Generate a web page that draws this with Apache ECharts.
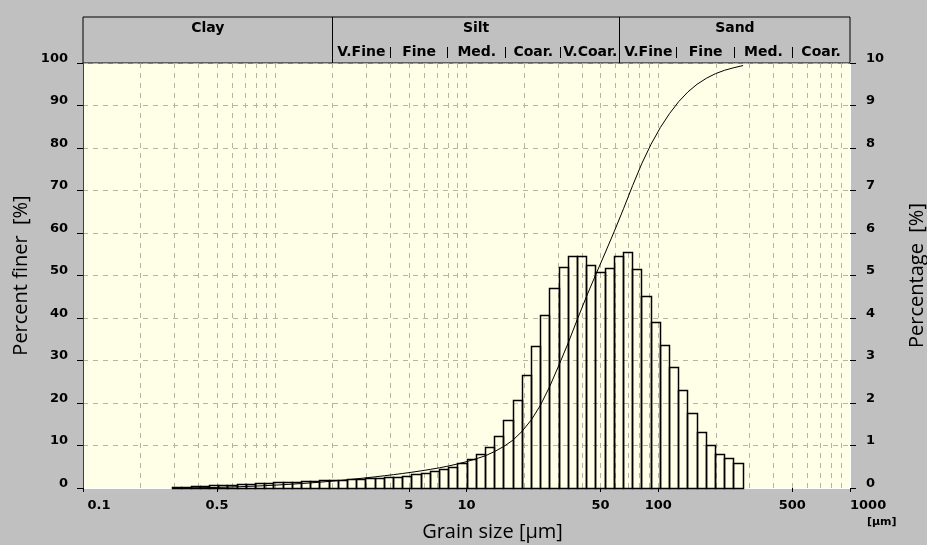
<!DOCTYPE html>
<html>
<head>
<meta charset="utf-8">
<script src="https://cdn.jsdelivr.net/npm/echarts@6/dist/echarts.min.js"></script>
<style>
  html, body { margin: 0; padding: 0; background: #c0c0c0; }
  #chart { width: 927px; height: 545px; }
</style>
</head>
<body>
<div id="chart"></div>
<script>
// Channel edges of the size classes, µm (62 channels, 63 edges)
const binEdges = [
  0.294, 0.328, 0.367, 0.410, 0.457, 0.511, 0.570, 0.637, 0.711, 0.794,
  0.887, 0.991, 1.106, 1.236, 1.380, 1.541, 1.721, 1.922, 2.147, 2.397,
  2.677, 2.990, 3.339, 3.729, 4.165, 4.651, 5.194, 5.801, 6.479, 7.234,
  8.080, 9.024, 10.08, 11.25, 12.57, 14.04, 15.68, 17.51, 19.55, 21.84,
  24.39, 27.23, 30.41, 33.96, 37.93, 42.36, 47.31, 52.83, 59.00, 65.89,
  73.58, 82.18, 91.77, 102.5, 114.5, 127.8, 142.8, 159.4, 178.1, 198.9,
  222.1, 248.1, 277.0
];

// Percentage of material in each channel (right axis)
const binPercent = [
  0.01, 0.02, 0.03, 0.04, 0.05, 0.06, 0.07, 0.08, 0.09, 0.10,
  0.11, 0.12, 0.13, 0.14, 0.15, 0.16, 0.17,
  0.18, 0.18, 0.20, 0.20, 0.23, 0.23, 0.25, 0.25, 0.28, 0.31,
  0.33, 0.39, 0.44, 0.49, 0.58, 0.66, 0.80,
  0.96, 1.22, 1.60, 2.05, 2.65, 3.33, 4.05, 4.69, 5.20, 5.45,
  5.45, 5.24, 5.07, 5.17, 5.45, 5.55, 5.13, 4.50, 3.90, 3.35,
  2.84, 2.30, 1.76, 1.31, 1.01,
  0.78, 0.69, 0.58
];

// Cumulative percent finer at each channel edge (left axis)
const finerPercent = [
  0, 0.01, 0.03, 0.06, 0.10, 0.15, 0.21, 0.28, 0.36, 0.45,
  0.55, 0.66, 0.78, 0.91, 1.05, 1.20, 1.37, 1.55, 1.75, 1.95,
  2.16, 2.39, 2.63, 2.88, 3.14, 3.42, 3.72, 4.04, 4.38, 4.76,
  5.19, 5.68, 6.24, 6.88, 7.6, 8.6, 9.8, 11.3, 13.4, 16.1,
  19.6, 24.0, 29.0, 34.2, 39.8, 45.2, 50.3, 55.3, 60.4, 65.7,
  71.2, 76.4, 80.9, 84.8, 88.1, 90.9, 93.2, 95.0, 96.4, 97.5,
  98.3, 98.9, 99.4
];

// Labelled sizes on the grain size axis, µm
const sizeTicks = [0.1, 0.5, 5, 10, 50, 100, 500, 1000];
// Sizes of the vertical grid lines, µm
const sizeGrid = [
  0.2, 0.3, 0.4, 0.5, 0.6, 0.7, 0.8, 0.9, 1,
  2, 3, 4, 5, 6, 7, 8, 9, 10,
  20, 30, 40, 50, 60, 70, 80, 90, 100,
  200, 300, 400, 500, 600, 700, 800, 900
];

// Texture classes and their limits, µm
const classNames = ['Clay', 'Silt', 'Sand'];
const classLimits = [0.1, 2, 63, 1000];
const subNames = ['V.Fine', 'Fine', 'Med.', 'Coar.', 'V.Coar.', 'V.Fine', 'Fine', 'Med.', 'Coar.'];
const subLimits = [2, 4, 8, 16, 31, 63, 125, 250, 500, 1000];

const lg = v => Math.log10(v);
const X_MIN = lg(0.1), X_MAX = lg(1000);
const LABEL_FONT = 'DejaVu Sans';
const TITLE_FONT = 'Open Sans';
const GRID_COLOR = '#b5b5a3';
const crisp = v => Math.round(v - 0.5) + 0.5;
const fmtSize = v => String(parseFloat(Math.pow(10, v).toPrecision(6)));

const barData = binPercent.map((p, i) => [lg(binEdges[i]), lg(binEdges[i + 1]), p]);
const curveData = binEdges.map((d, i) => [lg(d), finerPercent[i]]);
const classData = classNames.map((n, i) => [lg(classLimits[i]), lg(classLimits[i + 1])]);
const subData = subNames.map((n, i) => [lg(subLimits[i]), lg(subLimits[i + 1])]);

const chart = echarts.init(document.getElementById('chart'));

// value labels sit just above their tick marks
const valueLabel = {
  color: '#000', fontFamily: LABEL_FONT, fontWeight: 'bold', fontSize: 13,
  verticalAlign: 'bottom', lineHeight: 9
};

const option = {
  backgroundColor: '#c0c0c0',
  animation: false,
  grid: [
    { left: 83, right: 77, top: 63, bottom: 57, show: true, backgroundColor: '#ffffe8', borderWidth: 0,
      containLabel: false, outerBoundsMode: 'none' },
    { left: 83, right: 77, top: 17, height: 46, show: true, backgroundColor: 'transparent', borderColor: '#000', borderWidth: 1,
      containLabel: false, outerBoundsMode: 'none' }
  ],
  xAxis: [
    {
      type: 'value', gridIndex: 0, min: X_MIN, max: X_MAX, position: 'bottom',
      axisLine: { show: true, onZero: false, lineStyle: { color: '#ffffff', width: 1 } },
      axisTick: { show: true, length: 4, customValues: sizeTicks.map(lg), lineStyle: { color: '#000' } },
      axisLabel: {
        customValues: sizeTicks.map(lg),
        margin: 9,
        color: '#000', fontFamily: LABEL_FONT, fontWeight: 'bold', fontSize: 13, lineHeight: 17,
        alignMinLabel: 'left', alignMaxLabel: 'left',
        formatter: v => {
          const s = fmtSize(v);
          if (Math.abs(v - X_MAX) < 1e-6) return s + '\n{u|[µm]}';
          if (Math.abs(v - X_MIN) < 1e-6) return ' ' + s;
          return s;
        },
        rich: { u: { fontFamily: LABEL_FONT, fontWeight: 'bold', fontSize: 11, lineHeight: 17, padding: [0, 0, 0, 17], color: '#000' } }
      },
      splitLine: { show: false },
      name: 'Grain size [µm]', nameLocation: 'middle', nameGap: 34, nameMoveOverlap: false,
      nameTextStyle: { fontFamily: TITLE_FONT, fontSize: 20, color: '#000', padding: [0, 0, 0, 52] }
    },
    {
      type: 'value', gridIndex: 0, min: X_MIN, max: X_MAX, position: 'top',
      axisLine: { show: false, onZero: false },
      axisTick: { show: false, customValues: sizeGrid.map(lg) },
      axisLabel: { show: false },
      splitLine: { show: true, lineStyle: { color: GRID_COLOR, width: 1, type: [5, 5] } }
    },
    { type: 'value', gridIndex: 1, min: X_MIN, max: X_MAX, show: false }
  ],
  yAxis: [
    {
      type: 'value', gridIndex: 0, min: 0, max: 100, interval: 10, position: 'left',
      axisLine: { show: true, onZero: false, lineStyle: { color: '#404040', width: 1 } },
      axisTick: { show: true, length: 6, lineStyle: { color: '#000' } },
      axisLabel: Object.assign({ margin: 15 }, valueLabel),
      splitLine: { show: true, lineStyle: { color: GRID_COLOR, width: 1, type: [5, 5] } },
      name: 'Percent finer  [%]', nameLocation: 'middle', nameRotate: 90, nameGap: 52, nameMoveOverlap: false,
      nameTextStyle: { fontFamily: TITLE_FONT, fontSize: 20, color: '#000' }
    },
    {
      type: 'value', gridIndex: 0, min: 0, max: 10, interval: 1, position: 'right',
      axisLine: { show: true, onZero: false, lineStyle: { color: '#ffffff', width: 1 } },
      axisTick: { show: true, length: 6, lineStyle: { color: '#000' } },
      axisLabel: Object.assign({ margin: 16 }, valueLabel),
      splitLine: { show: false },
      name: 'Percentage  [%]', nameLocation: 'middle', nameRotate: 90, nameGap: 57, nameMoveOverlap: false,
      nameTextStyle: { fontFamily: TITLE_FONT, fontSize: 20, color: '#000' }
    },
    { type: 'value', gridIndex: 1, min: 0, max: 2, show: false }
  ],
  series: [
    {
      // channel histogram, drawn as open outlined bars
      type: 'custom', xAxisIndex: 0, yAxisIndex: 1, silent: true,
      data: barData,
      encode: { x: [0, 1], y: 2 },
      renderItem: (params, api) => {
        const p0 = api.coord([api.value(0), 0]);
        const p1 = api.coord([api.value(1), api.value(2)]);
        const x0 = crisp(p0[0]), x1 = crisp(p1[0]);
        const yb = crisp(p0[1]), yt = crisp(p1[1]);
        return {
          type: 'rect',
          shape: { x: x0, y: yt, width: x1 - x0, height: yb - yt },
          style: { fill: 'none', stroke: '#000', lineWidth: 1.5 }
        };
      },
      z: 3
    },
    {
      // cumulative curve
      type: 'line', xAxisIndex: 0, yAxisIndex: 0, silent: true,
      data: curveData, showSymbol: false, symbol: 'none',
      lineStyle: { color: '#000', width: 1 },
      z: 4
    },
    {
      // main classes of the header band
      type: 'custom', xAxisIndex: 2, yAxisIndex: 2, silent: true, clip: false,
      data: classData,
      renderItem: (params, api) => {
        const a = api.coord([api.value(0), 2]);
        const b = api.coord([api.value(1), 2]);
        const bottom = api.coord([api.value(0), 0])[1];
        const i = params.dataIndex;
        const children = [{
          type: 'text',
          style: {
            x: (a[0] + b[0]) / 2, y: a[1] + 11, text: classNames[i],
            align: 'center', verticalAlign: 'middle',
            fontFamily: LABEL_FONT, fontWeight: 'bold', fontSize: 14, fill: '#000'
          }
        }];
        if (i > 0) {
          const x = crisp(a[0]);
          children.push({ type: 'line', shape: { x1: x, y1: a[1], x2: x, y2: bottom }, style: { stroke: '#000', lineWidth: 1 } });
        }
        return { type: 'group', children };
      },
      z: 5
    },
    {
      // sub-classes of silt and sand
      type: 'custom', xAxisIndex: 2, yAxisIndex: 2, silent: true, clip: false,
      data: subData,
      renderItem: (params, api) => {
        const a = api.coord([api.value(0), 2]);
        const b = api.coord([api.value(1), 2]);
        const i = params.dataIndex;
        const children = [{
          type: 'text',
          style: {
            x: (a[0] + b[0]) / 2, y: a[1] + 35, text: subNames[i],
            align: 'center', verticalAlign: 'middle',
            fontFamily: LABEL_FONT, fontWeight: 'bold', fontSize: 14, fill: '#000'
          }
        }];
        const limit = subLimits[i + 1];
        if (limit !== 63 && limit !== 1000) {
          const x = crisp(b[0]);
          children.push({ type: 'line', shape: { x1: x, y1: a[1] + 30, x2: x, y2: a[1] + 41 }, style: { stroke: '#000', lineWidth: 1 } });
        }
        return { type: 'group', children };
      },
      z: 5
    }
  ]
};

chart.setOption(option);
</script>
</body>
</html>
